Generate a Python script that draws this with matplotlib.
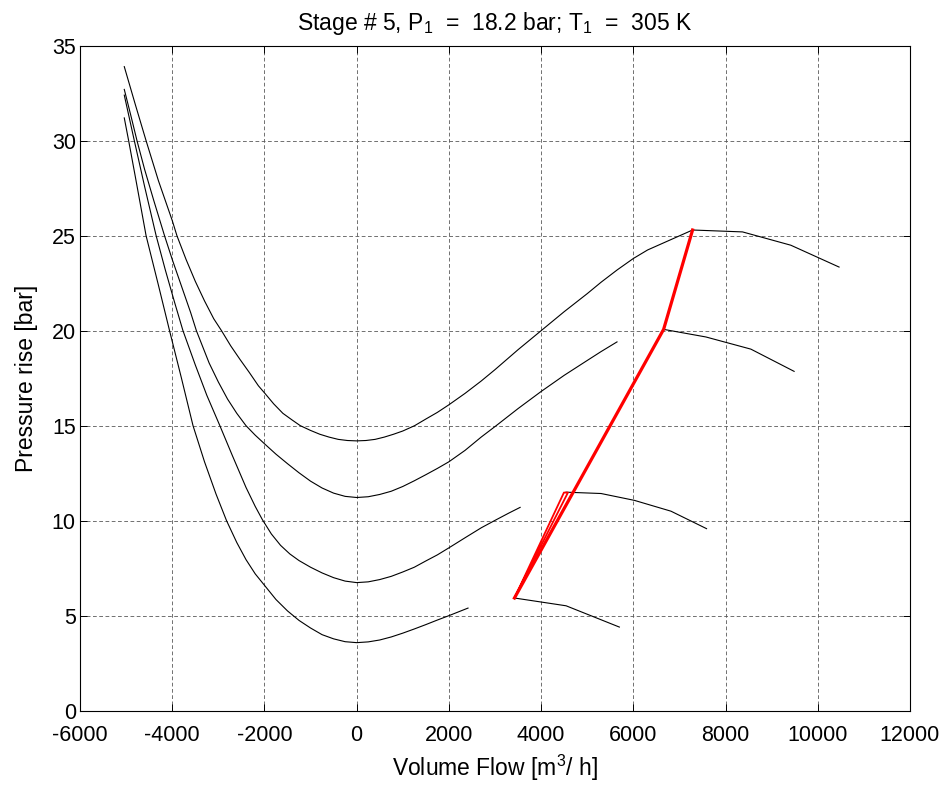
import matplotlib.pyplot as plt

plt.rcParams["font.family"] = ["Liberation Sans", "DejaVu Sans"]
plt.rcParams["mathtext.fontset"] = "custom"
plt.rcParams["mathtext.rm"] = "Liberation Sans"
plt.rcParams["axes.unicode_minus"] = False

# speed lines (U-shaped)
c1_x = [-5040, -4800, -4567, -4300, -4000, -3898, -3700, -3500, -3300, -3100, -2931,
        -2731, -2531, -2331, -2131, -2000, -1800, -1600, -1400, -1222, -1000, -800,
        -600, -400, -200, 0, 200, 400, 600, 800, 1000, 1256, 1500, 1750, 2000, 2350,
        2700, 3000, 3500, 4000, 4500, 5000, 5300, 5650, 6000, 6310, 7285]
c1_y = [33.9, 31.9, 30.0, 27.9, 25.8, 25.0, 23.75, 22.6, 21.57, 20.63, 20.0,
        19.2, 18.49, 17.81, 17.1, 16.73, 16.15, 15.65, 15.3, 15.0, 14.75, 14.55,
        14.4, 14.28, 14.22, 14.2, 14.22, 14.28, 14.4, 14.55, 14.72, 15.0, 15.35, 15.7, 16.1, 16.7,
        17.35, 17.95, 19.0, 20.0, 21.0, 21.95, 22.55, 23.2, 23.8, 24.25, 25.3]

c2_x = [-5040, -4900, -4764, -4600, -4400, -4167, -4000, -3800, -3600, -3476, -3200,
        -3000, -2800, -2600, -2400, -2200, -2000, -1750, -1500, -1250, -1000, -750,
        -500, -250, 0, 250, 500, 750, 1000, 1250, 1500, 1750, 2000, 2350, 2700, 3025,
        3500, 4000, 4500, 5011, 5300, 5646]
c2_y = [32.7, 31.35, 30.0, 28.5, 26.85, 25.0, 23.75, 22.35, 20.95, 20.0, 18.3,
        17.3, 16.4, 15.65, 15.0, 14.5, 14.05, 13.5, 13.0, 12.52, 12.08, 11.72,
        11.45, 11.28, 11.22, 11.26, 11.38, 11.55, 11.8, 12.1, 12.42, 12.75, 13.1, 13.7, 14.4, 15.0,
        15.9, 16.8, 17.65, 18.45, 18.9, 19.41]

c3_x = [-5040, -4822, -4600, -4349, -4150, -3950, -3767, -3500, -3250, -2967, -2700,
        -2400, -2200, -2044, -1850, -1650, -1450, -1250, -1000, -750, -500, -250, 0,
        250, 500, 750, 1000, 1250, 1500, 1750, 2000, 2350, 2705, 3011, 3300, 3545]
c3_y = [32.4, 30.0, 27.6, 25.0, 23.2, 21.5, 20.0, 18.2, 16.6, 15.0, 13.45,
        11.75, 10.75, 10.05, 9.3, 8.7, 8.25, 7.9, 7.55, 7.25, 7.0, 6.82, 6.74,
        6.78, 6.9, 7.07, 7.3, 7.55, 7.88, 8.2, 8.57, 9.1, 9.63, 10.03, 10.4, 10.7]

c4_x = [-5040, -4945, -4800, -4567, -4300, -4058, -3800, -3549, -3300, -3050, -2822,
        -2600, -2400, -2200, -2000, -1750, -1500, -1250, -1000, -750, -500, -250, 0,
        250, 500, 750, 1000, 1250, 1500, 1750, 2000, 2415]
c4_y = [31.2, 30.0, 28.1, 25.0, 22.4, 20.0, 17.5, 15.0, 13.1, 11.4, 10.0,
        8.85, 7.95, 7.2, 6.6, 5.85, 5.25, 4.75, 4.35, 4.0, 3.78, 3.63, 3.58,
        3.62, 3.72, 3.88, 4.08, 4.3, 4.53, 4.77, 5.0, 5.4]

# short segments right of the red line
r1_x = [7285, 8368, 9415, 10462]
r1_y = [25.3, 25.2, 24.5, 23.35]
r2_x = [6657, 7574, 8549, 9487]
r2_y = [20.07, 19.67, 19.03, 17.86]
r3_x = [4540, 5300, 6022, 6816, 7588]
r3_y = [11.5, 11.43, 11.07, 10.5, 9.58]
r4_x = [3422, 4542, 5697]
r4_y = [5.93, 5.52, 4.4]

# red line
red_x = [3422, 6657, 7285]
red_y = [5.93, 20.07, 25.3]
red_loop_x = [3422, 4495, 4582, 3422]
red_loop_y = [5.93, 11.48, 11.48, 5.93]

fig = plt.figure(figsize=(9.48, 7.87), dpi=100)
ax = fig.add_axes([0.0844, 0.097, 0.8755, 0.8449])

for xs, ys in [(c1_x, c1_y), (c2_x, c2_y), (c3_x, c3_y), (c4_x, c4_y),
               (r1_x, r1_y), (r2_x, r2_y), (r3_x, r3_y), (r4_x, r4_y)]:
    ax.plot(xs, ys, color="black", linewidth=0.8)

ax.plot(red_loop_x, red_loop_y, color="red", linewidth=1.3)
ax.plot(red_x, red_y, color="red", linewidth=2.3)

ax.set_xlim(-6000, 12000)
ax.set_ylim(0, 35)
ax.set_xticks(range(-6000, 12001, 2000))
ax.set_yticks(range(0, 36, 5))

ax.grid(True, color="0.35", linestyle=(0, (4.5, 3)), linewidth=0.6)
ax.tick_params(direction="in", top=True, right=True, length=5, width=0.7,
               labelsize=15.5)
ax.tick_params(axis="x", pad=10)
ax.tick_params(axis="y", pad=3)
for s in ax.spines.values():
    s.set_linewidth(0.8)

ax.set_title("Stage # 5, P$_1$  =  18.2 bar; T$_1$  =  305 K", fontsize=16.5, pad=11)
ax.set_xlabel("Volume Flow [m$^3$/ h]", fontsize=16.5, labelpad=5)
ax.set_ylabel("Pressure rise [bar]", fontsize=16.5, labelpad=10)

fig.savefig("out.png", dpi=100)
